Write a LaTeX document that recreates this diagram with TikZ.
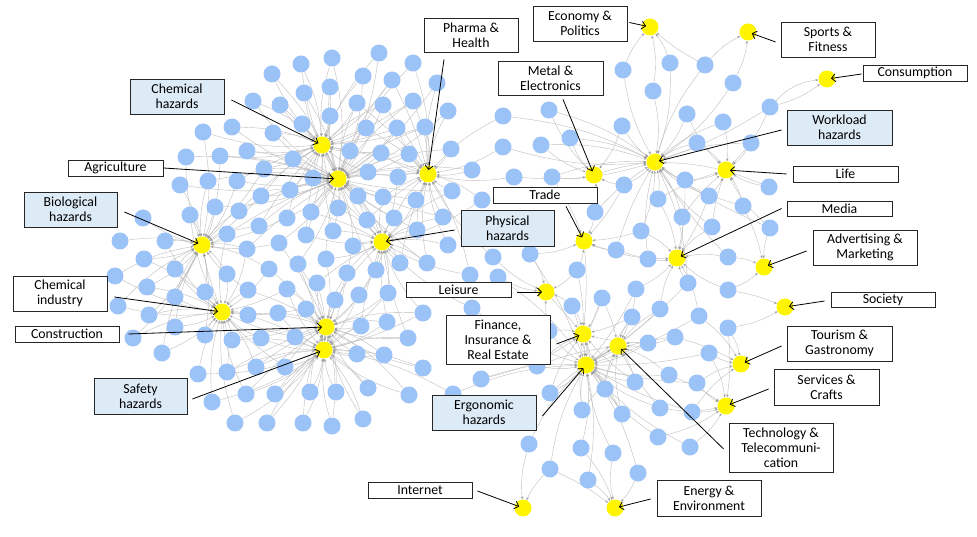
\documentclass[tikz,border=0pt]{standalone}
\usepackage{fontspec}
\setmainfont{Carlito}
\usetikzlibrary{arrows.meta}
\pgfdeclarelayer{bg}
\pgfsetlayers{bg,main}
\definecolor{nodeblue}{RGB}{156,195,247}
\definecolor{hubyellow}{RGB}{255,245,0}
\definecolor{boxblue}{RGB}{221,235,247}
\def\hublist{chemh/322/145/1.3, agri/338/179/1.5, pharma/428/174/1.3, bio/202/245/1.2, phys/382/242/1.2, chemind/222/312/1.1, constr/326/327/1.3, safety/324/350/1.3, econ/650/27/0.9, sports/748/32/0.8, cons/827/79/1.0, metal/594/175/0.9, work/655/162/1.6, life/726/170/1.0, trade/584/241/0.9, media/677/258/1.1, adv/764/267/0.9, soc/785/307/0.8, leis/546/292/0.8, fin/583/334/1.1, ergo/586/365/1.6, tech/618/346/1.1, tour/741/364/1.0, serv/726/406/1.0, inet/523/508/0.8, energy/615/508/0.9}
\begin{document}
\begin{tikzpicture}[x=1pt,y=-1pt,
  bnode/.style={circle,fill=nodeblue,minimum size=17pt,inner sep=0pt},
  hub/.style={circle,fill=hubyellow,minimum size=17pt,inner sep=0pt},
  lnk/.style={draw=gray!50,line width=0.4pt,-{Stealth[length=3pt,width=2.4pt,color=gray!75,fill=gray!75]}},
  lbox/.style={draw=black!85,line width=0.8pt,fill=white,align=center,inner sep=0pt,font=\fontsize{13.8}{15}\selectfont},
  hzbox/.style={lbox,fill=boxblue},
  lab/.style={draw=black,line width=0.8pt,shorten >=4pt,-{Straight Barb[length=4pt,width=8pt]}}
]
\begin{pgfonlayer}{bg}
\fill[white] (0,0) rectangle (977,537);
\end{pgfonlayer}
\useasboundingbox (0,0) rectangle (977,537);

% hubs
\foreach \hn/\hx/\hy/\hw in \hublist { \node[hub] (\hn) at (\hx,\hy) {}; }

% hub to hub links
\begin{pgfonlayer}{bg}
\draw[lnk] (chemh) to[bend left=5] (agri);
\draw[lnk] (pharma) to[bend right=4] (agri);
\draw[lnk] (phys) to[bend left=5] (agri);
\draw[lnk] (chemind) to[bend left=5] (bio);
\draw[lnk] (safety) -- (constr);
\draw[lnk] (leis) -- (fin);
\draw[lnk] (fin) -- (ergo);
\draw[lnk] (tech) -- (ergo);
\draw[lnk] (trade) to[bend left=5] (fin);
\draw[lnk] (metal) to[bend left=5] (work);
\end{pgfonlayer}

% blue nodes with links to nearest hubs
\foreach \x/\y [count=\i] in {332/58, 301/64, 272/74, 330/87, 304/93, 253/101, 280/105, 330/116, 302/124, 273/133,
  203/132, 232/127, 247/151, 220/156, 186/157, 293/159, 264/169, 237/181, 208/181, 180/185,
  313/178, 290/190, 261/196, 215/207, 239/211, 190/215, 287/218, 311/212, 259/226, 227/234,
  143/218, 120/241, 333/231, 306/235, 279/243, 165/241, 144/259, 175/269, 247/249, 298/264,
  326/259, 269/269, 227/274, 115/276, 147/287, 118/306, 175/297, 149/315, 175/327, 133/338,
  162/353, 205/292, 248/290, 287/289, 317/283, 335/300, 248/315, 278/313, 306/309, 205/335,
  232/340, 261/338, 295/337, 198/374, 227/372, 256/367, 285/367, 212/402, 246/394, 275/394,
  310/392, 336/392, 235/423, 267/423, 303/423, 332/426,
  379/53, 413/63, 363/76, 392/80, 437/83, 357/103, 383/105, 413/101, 448/111, 366/128,
  397/128, 425/127, 350/151, 381/153, 409/154, 451/149, 368/172, 398/177, 358/196, 383/197,
  416/200, 452/191, 482/200, 472/170, 338/208, 367/220, 394/218, 443/217, 417/230, 353/246,
  448/245, 347/273, 376/270, 400/263, 427/263, 470/275, 493/257, 530/254, 498/277, 359/295,
  388/293, 423/313, 472/308, 361/326, 387/322, 408/338, 357/354, 384/355, 423/368, 481/379,
  368/388, 409/395, 363/419, 453/394, 503/116, 549/110, 570/138, 503/147, 541/145, 514/177,
  552/177,
  623/70, 670/63, 705/65, 733/83, 653/91, 770/107, 687/114, 622/126, 723/122, 697/143,
  751/143, 624/185, 685/180, 709/196, 769/187, 658/199, 595/212, 743/206, 682/217, 712/227,
  641/231, 770/228, 616/250, 648/259, 728/257, 577/270, 602/298, 636/289, 688/283, 728/290,
  572/306, 632/317, 660/309, 699/316, 728/328, 648/343, 675/337, 709/353, 635/382, 605/389,
  669/375, 697/383, 582/410, 622/414, 660/408, 692/412, 658/437, 690/447, 638/473, 550/393,
  529/444, 581/448, 613/453, 550/469, 588/480, 537/366, 549/331} {
  \node[bnode] (b\i) at (\x,\y) {};
  \gdef\dA{9999}\gdef\dB{9999}\gdef\dC{9999}\gdef\nA{}\gdef\nB{}\gdef\nC{}
  \foreach \hn/\hx/\hy/\hw in \hublist {
    \pgfmathsetmacro\dd{veclen(\hx-\x,\hy-\y)/\hw}
    \ifdim\dd pt<\dA pt
      \xdef\dC{\dB}\xdef\nC{\nB}\xdef\dB{\dA}\xdef\nB{\nA}\xdef\dA{\dd}\xdef\nA{\hn}
    \else\ifdim\dd pt<\dB pt
      \xdef\dC{\dB}\xdef\nC{\nB}\xdef\dB{\dd}\xdef\nB{\hn}
    \else\ifdim\dd pt<\dC pt
      \xdef\dC{\dd}\xdef\nC{\hn}
    \fi\fi\fi
  }
  \pgfmathsetmacro\bnd{ifthenelse(mod(\i,2)==0,10,-10)}
  \begin{pgfonlayer}{bg}
    \draw[lnk] (b\i) to[bend left=\bnd] (\nA);
    \ifdim\dB pt<110pt \draw[lnk] (b\i) to[bend right=\bnd] (\nB); \fi
    \ifdim\dC pt<85pt \draw[lnk] (b\i) to[bend left=6] (\nC); \fi
  \end{pgfonlayer}
}
\begin{pgfonlayer}{bg}
\draw[lnk] (b143) to[bend left=20] (cons);
\end{pgfonlayer}

% label boxes
\node[hzbox,minimum width=94pt,minimum height=35pt] (chemhB) at (177,96.5) {Chemical\\hazards};
\node[lbox,minimum width=95pt,minimum height=16pt] (agriB) at (115.5,168) {Agriculture};
\node[hzbox,minimum width=93pt,minimum height=35pt] (bioB) at (70.5,209.5) {Biological\\hazards};
\node[lbox,minimum width=94pt,minimum height=34pt] (pharmaB) at (471,35) {Pharma \&\\Health};
\node[lbox,minimum width=94pt,minimum height=35pt] (econB) at (580,23.5) {Economy \&\\Politics};
\node[lbox,minimum width=105pt,minimum height=34pt] (metalB) at (550.5,78) {Metal \&\\Electronics};
\node[lbox,minimum width=104pt,minimum height=16pt] (tradeB) at (545,195) {Trade};
\node[hzbox,minimum width=93pt,minimum height=36pt] (physB) at (507.5,228) {Physical\\hazards};
\node[lbox,minimum width=94pt,minimum height=35pt] (sportsB) at (828,39.5) {Sports \&\\Fitness};
\node[lbox,minimum width=104pt,minimum height=16pt] (consB) at (915,73) {Consumption};
\node[hzbox,minimum width=105pt,minimum height=35pt] (workB) at (839.5,127.5) {Workload\\hazards};
\node[lbox,minimum width=105pt,minimum height=16pt] (lifeB) at (845.5,174) {Life};
\node[lbox,minimum width=105pt,minimum height=15pt] (mediaB) at (839.5,208.5) {Media};
\node[lbox,minimum width=104pt,minimum height=35pt] (advB) at (865,247.5) {Advertising \&\\Marketing};
\node[lbox,minimum width=94pt,minimum height=35pt] (chemindB) at (60,293.5) {Chemical\\industry};
\node[lbox,minimum width=104pt,minimum height=16pt] (constrB) at (67,334) {Construction};
\node[hzbox,minimum width=93pt,minimum height=36pt] (safetyB) at (140.5,396) {Safety\\hazards};
\node[lbox,minimum width=105pt,minimum height=15pt] (leisB) at (458.5,289.5) {Leisure};
\node[lbox,minimum width=104pt,minimum height=49pt] (finB) at (498,339.5) {Finance,\\Insurance \&\\Real Estate};
\node[hzbox,minimum width=104pt,minimum height=35pt] (ergoB) at (484,412.5) {Ergonomic\\hazards};
\node[lbox,minimum width=104pt,minimum height=16pt] (inetB) at (420,490) {Internet};
\node[lbox,minimum width=104pt,minimum height=15pt] (socB) at (883,299.5) {Society};
\node[lbox,minimum width=105pt,minimum height=35pt] (tourB) at (839.5,343.5) {Tourism \&\\Gastronomy};
\node[lbox,minimum width=105pt,minimum height=36pt] (servB) at (826.5,387) {Services \&\\Crafts};
\node[lbox,minimum width=104pt,minimum height=49pt] (techB) at (781,447.5) {Technology \&\\Telecommuni-\\cation};
\node[lbox,minimum width=104pt,minimum height=36pt] (energyB) at (709,498) {Energy \&\\Environment};

% label arrows
\draw[lab] ([xshift=7pt,yshift=-3.5pt]chemhB.east) -- (chemh.center);
\draw[lab] (agriB.east) -- (agri.center);
\draw[lab] ([xshift=7pt,yshift=-2.5pt]bioB.east) -- (bio.center);
\draw[lab] ([xshift=-27pt,yshift=-7pt]pharmaB.south) -- (pharma.center);
\draw[lab] ([xshift=12.5pt,yshift=-4pt]metalB.south) -- (metal.center);
\draw[lab] ([xshift=21pt,yshift=-3pt]tradeB.south) -- (trade.center);
\draw[lab] ([xshift=-6pt,yshift=-2pt]physB.west) -- (phys.center);
\draw[lab] ([xshift=2pt,yshift=1pt]econB.east) -- (econ.center);
\draw[lab] ([xshift=-5pt,yshift=-2.5pt]sportsB.west) -- (sports.center);
\draw[lab] ([xshift=-1pt,yshift=-1pt]consB.west) -- (cons.center);
\draw[lab] ([xshift=-5pt,yshift=-2.5pt]workB.west) -- (work.center);
\draw[lab] ([xshift=-6pt]lifeB.west) -- (life.center);
\draw[lab] ([xshift=-5pt]mediaB.west) -- (media.center);
\draw[lab] ([xshift=-6pt,yshift=-3.5pt]advB.west) -- (adv.center);
\draw[lab] ([xshift=7pt,yshift=-3.5pt]chemindB.east) -- (chemind.center);
\draw[lab] ([xshift=9pt]constrB.east) -- (constr.center);
\draw[lab] ([xshift=5pt,yshift=-3pt]safetyB.east) -- (safety.center);
\draw[lab] ([xshift=6pt,yshift=-2.5pt]leisB.east) -- (leis.center);
\draw[lab] ([xshift=6pt,yshift=-4.5pt]finB.east) -- (fin.center);
\draw[lab] ([xshift=6pt,yshift=-3.5pt]ergoB.east) -- (ergo.center);
\draw[lab] ([xshift=5pt,yshift=-1pt]inetB.east) -- (inet.center);
\draw[lab] ([xshift=-6pt,yshift=-1pt]energyB.west) -- (energy.center);
\draw[lab] ([xshift=-6pt,yshift=-1.5pt]socB.west) -- (soc.center);
\draw[lab] ([xshift=-5pt,yshift=-2.5pt]tourB.west) -- (tour.center);
\draw[lab] ([xshift=-5pt,yshift=-2pt]servB.west) -- (serv.center);
\draw[lab] ([xshift=-5pt,yshift=-1.5pt]techB.west) -- (tech.center);
\end{tikzpicture}
\end{document}
